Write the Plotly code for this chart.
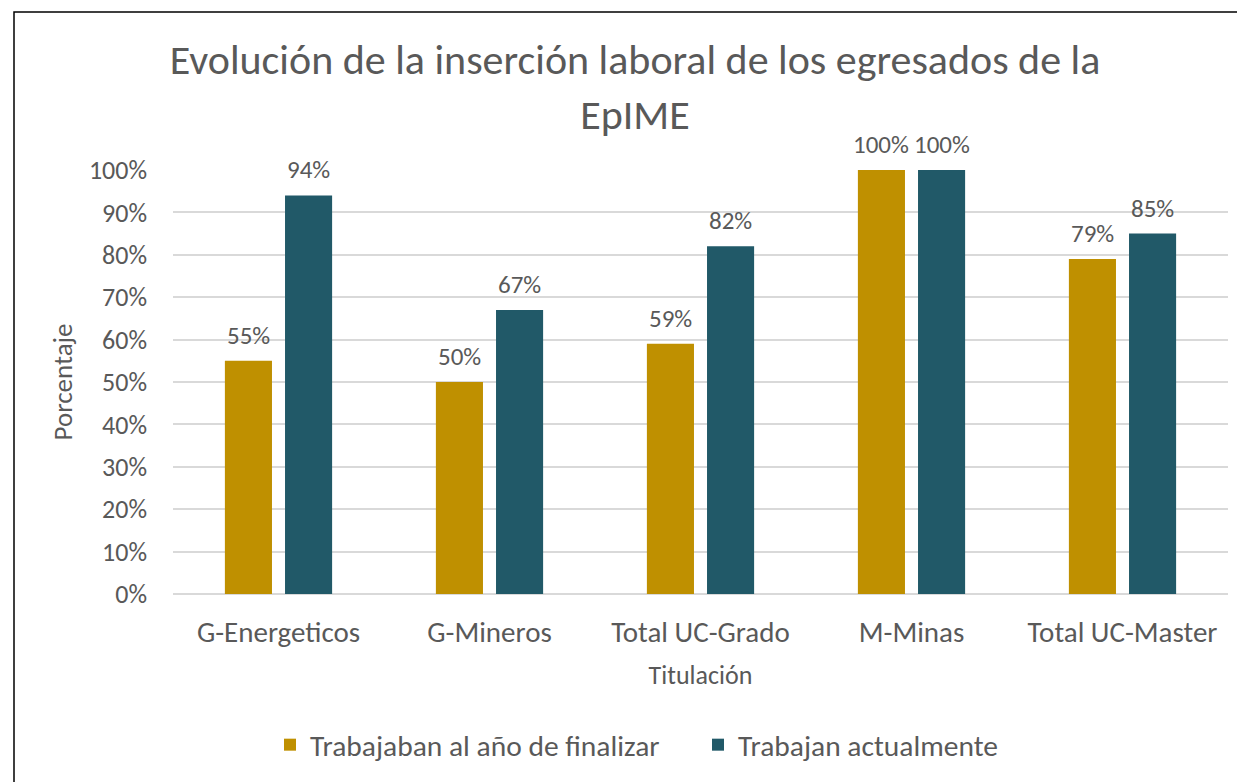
import plotly.graph_objects as go

categories = ["G-Energeticos", "G-Mineros", "Total UC-Grado", "M-Minas", "Total UC-Master"]
trabajaban_fin = [0.55, 0.50, 0.59, 1.00, 0.79]
trabajan_actual = [0.94, 0.67, 0.82, 1.00, 0.85]
series_names = ["Trabajaban al año de finalizar", "Trabajan actualmente"]
series_colors = ["#BF9000", "#215968"]
y_ticks = [0, 0.1, 0.2, 0.3, 0.4, 0.5, 0.6, 0.7, 0.8, 0.9, 1.0]

FONT = "Carlito, Lato, 'Open Sans', sans-serif"
GREY = "#595959"
W, H = 1237, 782
L, R, T, B = 173, 9, 170, 188
pw, ph = W - L - R, H - T - B
BARGAP, GROUPGAP = 0.43, 0.217
slot_px = pw / len(categories) * (1 - BARGAP) / 2

fig = go.Figure()
for i, (name, vals) in enumerate(zip(series_names, [trabajaban_fin, trabajan_actual])):
    fig.add_trace(go.Bar(
        x=categories, y=vals, name=name, marker_color=series_colors[i],
        marker_line_width=0,
    ))
    for c, v in zip(categories, vals):
        fig.add_annotation(x=c, y=v, text=f"{round(v*100)}%", showarrow=False,
                           xshift=(i - 0.5) * slot_px, yshift=8, yanchor="bottom",
                           font=dict(size=25, color=GREY, family=FONT))

fig.update_layout(
    width=W, height=H,
    margin=dict(l=L, r=R, t=T, b=B),
    paper_bgcolor="white", plot_bgcolor="white",
    font=dict(family=FONT, color=GREY),
    barmode="group", bargap=BARGAP, bargroupgap=GROUPGAP,
    title=dict(text="Evolución de la inserción laboral de los egresados de la<br>EpIME",
               x=635 / W, xanchor="center", y=1 - 74 / H, yanchor="top",
               font=dict(size=42, color=GREY, family=FONT)),
    xaxis=dict(title=dict(text="Titulación", font=dict(size=26, color=GREY), standoff=16),
               tickfont=dict(size=29, color=GREY), showgrid=False, showline=False,
               ticklabelstandoff=18),
    yaxis=dict(title=dict(text="Porcentaje", font=dict(size=27, color=GREY), standoff=8),
               range=[0, 1.0], tickvals=y_ticks, tickformat=".0%",
               tickfont=dict(size=26, color=GREY), showgrid=True, gridcolor="#D9D9D9",
               gridwidth=1.5, zeroline=True, zerolinecolor="#D9D9D9", zerolinewidth=1.5,
               ticklabelstandoff=25, showline=False),
    legend=dict(orientation="h", x=270 / W, xref="container", xanchor="left",
                y=1 - 719 / H, yref="container", yanchor="top",
                font=dict(size=29.5, color=GREY), itemwidth=30,
                entrywidth=383, entrywidthmode="pixels",
                traceorder="normal"),
    showlegend=True,
)

fig.add_shape(type="rect", xref="paper", yref="paper",
              x0=(14 - L) / pw, x1=(W + 20 - L) / pw,
              y0=(H - B - (H + 20)) / ph, y1=(H - B - 12) / ph,
              line=dict(color="black", width=1.5), fillcolor="rgba(0,0,0,0)", layer="below")

fig.write_html("out.html", config={"displayModeBar": False},
               post_script="document.body.style.margin='0';document.body.style.overflow='hidden';")
